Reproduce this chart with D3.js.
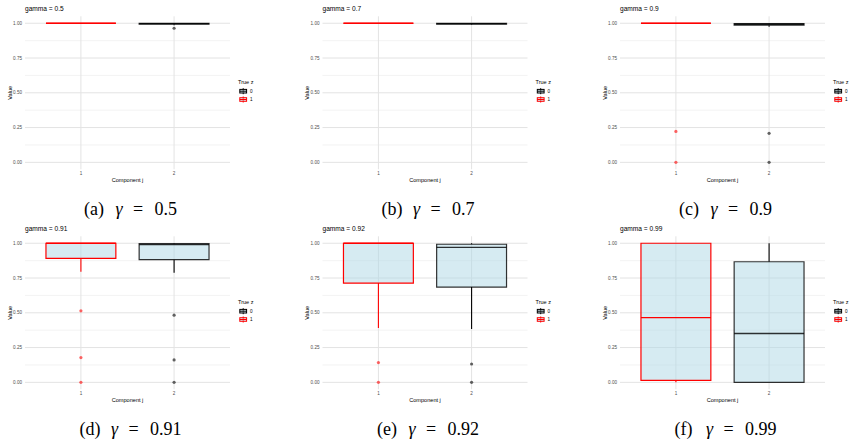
<!DOCTYPE html>
<html>
<head>
<meta charset="utf-8">
<script src="https://cdn.jsdelivr.net/npm/d3@7"></script>
<style>
body { margin: 0; background: #fff; }
svg { display: block; }
</style>
</head>
<body>
<svg></svg>
<script>
// one panel per gamma
var gammas = [0.5, 0.7, 0.9, 0.91, 0.92, 0.99];
var letters = ['a', 'b', 'c', 'd', 'e', 'f'];
var components = ['1', '2'];
var zOfComponent = ['1', '0'];   // component 1 is z = 1, component 2 is z = 0
var zLevels = ['0', '1'];
var yTicks = [0, 0.25, 0.5, 0.75, 1];
var yMinor = [0.125, 0.375, 0.625, 0.875];

// [lower whisker, q1, median, q3, upper whisker]
var comp1Stats = [
  [1, 1, 1, 1, 1],
  [1, 1, 1, 1, 1],
  [1, 1, 1, 1, 1],
  [0.795, 0.892, 1, 1, 1],
  [0.391, 0.714, 1, 1, 1],
  [0, 0.014, 0.466, 1, 1]
];
var comp2Stats = [
  [0.985, 0.993, 0.998, 1, 1],
  [0.99, 0.993, 0.998, 1, 1],
  [0.975, 0.986, 0.993, 0.998, 1],
  [0.788, 0.882, 0.99, 0.997, 1],
  [0.384, 0.685, 0.97, 0.993, 1],
  [0, 0, 0.351, 0.867, 1]
];
var comp1Outliers = [[], [], [0.222, 0], [0.514, 0.178, 0], [0.142, 0], []];
var comp2Outliers = [[0.964], [], [0.209, 0], [0.483, 0.161, 0], [0.132, 0], []];

var zColor = d3.scaleOrdinal().domain(zLevels).range(['#000000', '#ff0000']);
var boxFill = '#add8e6';

var svg = d3.select('svg').attr('width', 856).attr('height', 445);
var sans = 'Liberation Sans, Arial, sans-serif';
var serif = 'Liberation Serif, Times New Roman, serif';

var colX = [0, 297.5, 595];
var rowY = [0, 220];

var x = d3.scalePoint().domain(components).range([25, 230]).padding(0.6);
var y = d3.scaleLinear().domain([-0.05, 1.05]).range([169.3, 16.3]);
var boxW = x.step() * 0.75;

gammas.forEach(function(g, p) {
  var panel = svg.append('g')
    .attr('transform', 'translate(' + colX[p % 3] + ',' + rowY[Math.floor(p / 3)] + ')');

  // grid
  panel.selectAll('.minor').data(yMinor).enter().append('line')
    .attr('x1', 25).attr('x2', 230)
    .attr('y1', y).attr('y2', y)
    .attr('stroke', '#eeeeee').attr('stroke-width', 0.7);
  panel.selectAll('.major').data(yTicks).enter().append('line')
    .attr('x1', 25).attr('x2', 230)
    .attr('y1', y).attr('y2', y)
    .attr('stroke', '#e3e3e3').attr('stroke-width', 1);
  panel.selectAll('.vmajor').data(components).enter().append('line')
    .attr('x1', x).attr('x2', x)
    .attr('y1', 16.3).attr('y2', 169.3)
    .attr('stroke', '#e3e3e3').attr('stroke-width', 1);

  // tick labels
  panel.selectAll('.ytick').data(yTicks).enter().append('text')
    .attr('x', 22).attr('y', y).attr('dy', '0.35em')
    .attr('text-anchor', 'end')
    .attr('font-family', sans).attr('font-size', 4.6).attr('fill', '#4d4d4d')
    .text(d3.format('.2f'));
  panel.selectAll('.xtick').data(components).enter().append('text')
    .attr('x', x).attr('y', 175.3)
    .attr('text-anchor', 'middle')
    .attr('font-family', sans).attr('font-size', 4.6).attr('fill', '#4d4d4d')
    .text(function(d) { return d; });

  // titles
  panel.append('text').attr('x', 25).attr('y', 11.2)
    .attr('font-family', sans).attr('font-size', 6.6).attr('fill', '#000')
    .text('gamma = ' + g);
  panel.append('text').attr('x', 127.5).attr('y', 181.6)
    .attr('text-anchor', 'middle')
    .attr('font-family', sans).attr('font-size', 5.6).attr('fill', '#000')
    .text('Component j');
  panel.append('text')
    .attr('transform', 'translate(11.6,92.8) rotate(-90)')
    .attr('text-anchor', 'middle')
    .attr('font-family', sans).attr('font-size', 5.6).attr('fill', '#000')
    .text('Value');

  // boxes
  var boxes = [
    { comp: '1', z: zOfComponent[0], s: comp1Stats[p], out: comp1Outliers[p] },
    { comp: '2', z: zOfComponent[1], s: comp2Stats[p], out: comp2Outliers[p] }
  ];
  boxes.forEach(function(b) {
    var cx = x(b.comp), col = zColor(b.z);
    var op = b.z === '0' ? 0.8 : 1;
    var x0 = cx - boxW / 2, x1 = cx + boxW / 2;
    var bg = panel.append('g');
    bg.append('line').attr('x1', cx).attr('x2', cx)
      .attr('y1', y(b.s[4])).attr('y2', y(b.s[3]))
      .attr('stroke', col).attr('stroke-width', 1.1);
    bg.append('line').attr('x1', cx).attr('x2', cx)
      .attr('y1', y(b.s[1])).attr('y2', y(b.s[0]))
      .attr('stroke', col).attr('stroke-width', 1.1);
    bg.append('path')
      .attr('d', 'M' + x0 + ',' + y(b.s[3]) + 'H' + x1 + 'V' + y(b.s[1]) + 'H' + x0 + 'Z')
      .attr('fill', boxFill).attr('fill-opacity', 0.5)
      .attr('stroke', col).attr('stroke-width', 1.2)
      .attr('stroke-opacity', op);
    bg.append('line').attr('x1', x0).attr('x2', x1)
      .attr('y1', y(b.s[2])).attr('y2', y(b.s[2]))
      .attr('stroke', col).attr('stroke-width', 1.3)
      .attr('stroke-opacity', op);
    bg.selectAll('circle').data(b.out).enter().append('circle')
      .attr('cx', cx).attr('cy', y).attr('r', 1.6)
      .attr('fill', col).attr('fill-opacity', 0.6);
  });

  // legend
  var lg = panel.append('g');
  lg.append('text').attr('x', 238).attr('y', 83.5)
    .attr('font-family', sans).attr('font-size', 5.5).attr('fill', '#000')
    .text('True z');
  zLevels.forEach(function(z, i) {
    var cy = 91.2 + i * 8.3, col = zColor(z);
    lg.append('line').attr('x1', 243.2).attr('x2', 243.2)
      .attr('y1', cy - 3).attr('y2', cy + 3)
      .attr('stroke', col).attr('stroke-width', 1);
    lg.append('rect').attr('x', 239.8).attr('y', cy - 1.8)
      .attr('width', 6.8).attr('height', 3.6)
      .attr('fill', boxFill).attr('fill-opacity', 0.5)
      .attr('stroke', col).attr('stroke-width', 1);
    lg.append('line').attr('x1', 239.8).attr('x2', 246.6)
      .attr('y1', cy).attr('y2', cy)
      .attr('stroke', col).attr('stroke-width', 1);
    lg.append('text').attr('x', 250).attr('y', cy).attr('dy', '0.35em')
      .attr('font-family', sans).attr('font-size', 4.6).attr('fill', '#000')
      .text(z);
  });

  // caption
  var cap = panel.append('g').attr('font-family', serif).attr('font-size', 18).attr('fill', '#000');
  var by = 215;
  cap.append('text').attr('x', 0).attr('y', by).text('(' + letters[p] + ')');
  cap.append('text').attr('x', 31.3).attr('y', by).attr('font-style', 'italic').text('γ');
  cap.append('text').attr('x', 49).attr('y', by).text('=');
  var num = cap.append('text').attr('x', 70.3).attr('y', by).text(String(g));
  var w = 70.3 + num.node().getComputedTextLength();
  cap.attr('transform', 'translate(' + (130.5 - w / 2) + ',0)');
});
</script>
</body>
</html>
